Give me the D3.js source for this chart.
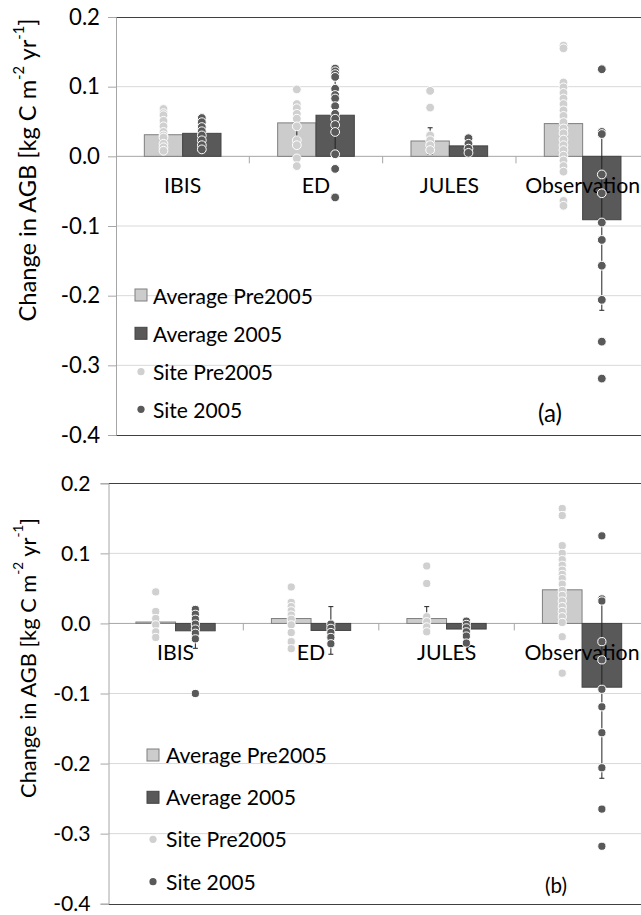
<!DOCTYPE html>
<html><head><meta charset="utf-8">
<script src="https://cdn.jsdelivr.net/npm/d3@7"></script>
<style>body{margin:0;background:#fff;overflow:hidden} text{font-family:Lato,'Open Sans',sans-serif;fill:#000}</style>
</head><body><svg id="c" width="641" height="915"></svg>
<script>
// ---------- DATA ----------
const categories = ["IBIS", "ED", "JULES", "Observation"];
const yTicks = [0.2, 0.1, 0.0, -0.1, -0.2, -0.3, -0.4];
const legendLabels = ["Average Pre2005", "Average 2005", "Site Pre2005", "Site 2005"];
const panelTags = ["(a)", "(b)"];

// Panel (a)
const avgPreA   = [0.031, 0.048, 0.022, 0.047];
const avg2005A  = [0.033, 0.059, 0.015, -0.091];
const errPreA   = [0.010, 0.020, 0.019, 0.020];
const err2005A  = [0.010, 0.055, 0.008, 0.130];
const sitePreA = [
  [0.068, 0.062, 0.059, 0.051, 0.043, 0.035, 0.030, 0.027, 0.018, 0.013, 0.008],
  [0.096, 0.075, 0.069, 0.061, 0.054, 0.043, 0.023, 0.016, -0.003, -0.014],
  [0.094, 0.070, 0.030, 0.023, 0.016, 0.009],
  [0.159, 0.155, 0.106, 0.099, 0.091, 0.083, 0.075, 0.066, 0.058, 0.049, 0.040, 0.033, 0.024, 0.016, 0.009, 0.001, -0.006, -0.014, -0.022, -0.064, -0.071]
];
const site2005A = [
  [0.055, 0.049, 0.042, 0.036, 0.030, 0.023, 0.016, 0.010],
  [0.126, 0.122, 0.118, 0.114, 0.097, 0.088, 0.083, 0.072, 0.061, 0.054, 0.045, 0.035, 0.003, -0.018, -0.059],
  [0.026, 0.018, 0.011, 0.005],
  [0.125, 0.035, 0.032, -0.026, -0.053, -0.095, -0.120, -0.157, -0.206, -0.266, -0.319]
];

// Panel (b)
const avgPreB   = [0.002, 0.007, 0.007, 0.048];
const avg2005B  = [-0.0105, -0.010, -0.008, -0.091];
const errPreB   = [0.008, 0.024, 0.017, 0.020];
const err2005B  = [0.025, 0.034, 0.010, 0.130];
const sitePreB = [
  [0.045, 0.017, 0.007, -0.002, -0.012, -0.020],
  [0.052, 0.030, 0.024, 0.018, 0.012, 0.006, -0.002, -0.013, -0.026, -0.036],
  [0.082, 0.057, 0.0095, 0.0024, -0.005, -0.012],
  [0.164, 0.154, 0.111, 0.100, 0.091, 0.083, 0.076, 0.070, 0.064, 0.056, 0.047, 0.040, 0.032, 0.024, 0.017, 0.0095, 0.0014, -0.019, -0.071]
];
const site2005B = [
  [0.020, 0.013, 0.006, -0.001, -0.008, -0.014, -0.022, -0.100],
  [-0.001, -0.007, -0.013, -0.020, -0.029],
  [0.0033, -0.0014, -0.0063, -0.012, -0.018, -0.028],
  [0.125, 0.035, 0.032, -0.026, -0.052, -0.094, -0.119, -0.156, -0.206, -0.265, -0.318]
];

// ---------- DRAW ----------
const svg = d3.select("#c");
const LIGHT = "#cccccc", DARK = "#595959", LIGHTDOT = "#d0d0d0";

function fitSize(str, target, base = 20) {
  const t = svg.append("text").style("font-size", base + "px").text(str);
  const w = t.node().getComputedTextLength();
  t.remove();
  return base * target / w;
}

function drawPanel(p) {
  const g = svg.append("g");
  const y = d3.scaleLinear().domain([-0.4, 0.2]).range([p.yBottom, p.yTop]);
  const x = d3.scaleBand().domain(categories).range([p.xL, p.xR]);
  const bw = x.bandwidth();
  const gw = bw * p.groupFrac;
  const x1 = d3.scaleBand().domain(["pre", "post"]).range([(bw - gw) / 2, (bw + gw) / 2]);
  const cx = (i, s) => x(categories[i]) + x1(s) + x1.bandwidth() / 2;

  // gridlines
  g.append("g").selectAll("line")
    .data(yTicks.filter(v => v !== 0 && v !== 0.2 && v !== -0.4)).join("line")
    .attr("x1", p.axisX).attr("x2", p.xR).attr("y1", d => y(d)).attr("y2", d => y(d))
    .attr("stroke", "#d9d9d9").attr("stroke-width", 1);
  // top/bottom border
  g.append("g").selectAll("line").data([0.2, -0.4]).join("line")
    .attr("x1", p.axisX).attr("x2", p.xR).attr("y1", d => Math.round(y(d)) + 0.5).attr("y2", d => Math.round(y(d)) + 0.5)
    .attr("stroke", "#404040").attr("stroke-width", 1.2);

  // left axis
  const ax = g.append("g").attr("transform", `translate(${p.axisX},0)`)
    .call(d3.axisLeft(y).tickValues(yTicks).tickFormat(d => d.toFixed(1)).tickSize(8).tickPadding(p.tickPad));
  ax.select(".domain").attr("stroke", "#a6a6a6");
  ax.selectAll(".tick line").attr("stroke", "#a6a6a6");
  ax.selectAll(".tick text").style("font-size", p.tickFont + "px").style("font-family", "Lato, 'Open Sans', sans-serif").attr("fill", "#000");

  // zero line & category ticks
  g.append("line").attr("x1", p.axisX).attr("x2", p.xR).attr("y1", y(0)).attr("y2", y(0))
    .attr("stroke", "#a6a6a6");
  g.append("g").selectAll("line").data(categories.slice(1)).join("line")
    .attr("x1", d => x(d)).attr("x2", d => x(d)).attr("y1", y(0)).attr("y2", y(0) + 7)
    .attr("stroke", "#a6a6a6");

  // bars
  const bars = [];
  categories.forEach((c, i) => {
    bars.push({ i, s: "pre", v: p.avgPre[i], e: p.errPre[i] });
    bars.push({ i, s: "post", v: p.avg2005[i], e: p.err2005[i] });
  });
  g.append("g").selectAll("rect").data(bars).join("rect")
    .attr("x", d => x(categories[d.i]) + x1(d.s))
    .attr("width", x1.bandwidth())
    .attr("y", d => y(Math.max(0, d.v)))
    .attr("height", d => Math.abs(y(d.v) - y(0)))
    .attr("fill", d => d.s === "pre" ? LIGHT : DARK)
    .attr("stroke", d => d.s === "pre" ? "#7f7f7f" : "#444")
    .attr("stroke-width", 1);

  // error bars
  const eg = g.append("g").attr("stroke", "#222").attr("stroke-width", 1);
  bars.forEach(d => {
    const xc = cx(d.i, d.s);
    eg.append("line").attr("x1", xc).attr("x2", xc).attr("y1", y(d.v - d.e)).attr("y2", y(d.v + d.e));
    [d.v - d.e, d.v + d.e].forEach(v => eg.append("line").attr("x1", xc - 2.5).attr("x2", xc + 2.5).attr("y1", y(v)).attr("y2", y(v)));
  });

  // category labels
  g.append("g").selectAll("text").data(categories).join("text")
    .attr("x", d => x(d) + bw / 2).attr("y", p.catY)
    .attr("text-anchor", "middle").style("font-size", p.catFont + "px").text(d => d);

  // dots
  const dots = [];
  categories.forEach((c, i) => {
    p.sitePre[i].forEach(v => dots.push({ i, s: "pre", v }));
    p.site2005[i].forEach(v => dots.push({ i, s: "post", v }));
  });
  g.append("g").selectAll("circle").data(dots).join("circle")
    .attr("cx", d => cx(d.i, d.s)).attr("cy", d => y(d.v)).attr("r", p.dotR)
    .attr("fill", d => d.s === "pre" ? LIGHTDOT : DARK)
    .attr("stroke", "#fff").attr("stroke-width", 1);

  // y label
  const lab = g.append("text")
    .attr("transform", `translate(${p.labX},${p.labY}) rotate(-90)`)
    .attr("text-anchor", "middle").attr("dominant-baseline", "central")
    .style("font-size", p.labFont + "px");
  lab.append("tspan").text("Change in AGB [kg C m");
  lab.append("tspan").attr("dy", -p.labFont * 0.4).style("font-size", (p.labFont * 0.62) + "px").text("-2");
  lab.append("tspan").attr("dy", p.labFont * 0.4).text(" yr");
  lab.append("tspan").attr("dy", -p.labFont * 0.4).style("font-size", (p.labFont * 0.62) + "px").text("-1");
  lab.append("tspan").attr("dy", p.labFont * 0.4).text("]");

  // legend
  const lg = g.append("g");
  legendLabels.forEach((t, k) => {
    const ry = p.legY[k];
    if (k < 2) {
      lg.append("rect").attr("x", p.legX).attr("y", ry - 6).attr("width", 12).attr("height", 12)
        .attr("fill", k === 0 ? LIGHT : DARK).attr("stroke", k === 0 ? "#7f7f7f" : "#444");
    } else {
      lg.append("circle").attr("cx", p.legX + 6).attr("cy", ry).attr("r", 3.6)
        .attr("fill", k === 2 ? LIGHTDOT : DARK);
    }
    lg.append("text").attr("x", p.legTextX).attr("y", ry).attr("dominant-baseline", "central")
      .style("font-size", p.legFont + "px").text(t);
  });

  // panel tag
  g.append("text").attr("x", p.tagX).attr("y", p.tagY).attr("text-anchor", "middle")
    .attr("dominant-baseline", "central").style("font-size", p.tagFont + "px").text(p.tag);
}

const tickFontA = fitSize("0.2", 31), tickFontB = fitSize("0.2", 29.5);
const catFont = fitSize("Observation", 115);
const legFont = fitSize("Average Pre2005", 160);
const legFontB = fitSize("Average Pre2005", 161);
const tagFontA = fitSize("(a)", 24), tagFontB = fitSize("(b)", 22);

function labelSize(target) {
  const t = svg.append("text").style("font-size", "20px");
  t.append("tspan").text("Change in AGB [kg C m");
  t.append("tspan").style("font-size", "12.4px").text("-2");
  t.append("tspan").text(" yr");
  t.append("tspan").style("font-size", "12.4px").text("-1");
  t.append("tspan").text("]");
  const w = t.node().getComputedTextLength(); t.remove();
  return 20 * target / w;
}

drawPanel({
  yTop: 17, yBottom: 435, xL: 116, xR: 649.3, axisX: 116, groupFrac: 0.575, tickPad: 8,
  tickFont: tickFontA, catFont: catFont, catY: 193, dotR: 4.4,
  avgPre: avgPreA, avg2005: avg2005A, errPre: errPreA, err2005: err2005A,
  sitePre: sitePreA, site2005: site2005A,
  labX: 27, labY: 170, labFont: labelSize(303),
  legX: 135, legTextX: 153, legY: [295, 333.3, 371.7, 409.3], legFont: legFont,
  tag: panelTags[0], tagX: 550, tagY: 412, tagFont: tagFontA
});
drawPanel({
  yTop: 483.3, yBottom: 903.7, xL: 107.8, xR: 649.8, axisX: 108.5, groupFrac: 0.585, tickPad: 10,
  tickFont: tickFontB, catFont: catFont, catY: 660, dotR: 4.1,
  avgPre: avgPreB, avg2005: avg2005B, errPre: errPreB, err2005: err2005B,
  sitePre: sitePreB, site2005: site2005B,
  labX: 27, labY: 658, labFont: labelSize(280),
  legX: 147, legTextX: 166, legY: [755, 797.3, 839.3, 881.7], legFont: legFontB,
  tag: panelTags[1], tagX: 556, tagY: 885, tagFont: tagFontB
});
</script></body></html>
